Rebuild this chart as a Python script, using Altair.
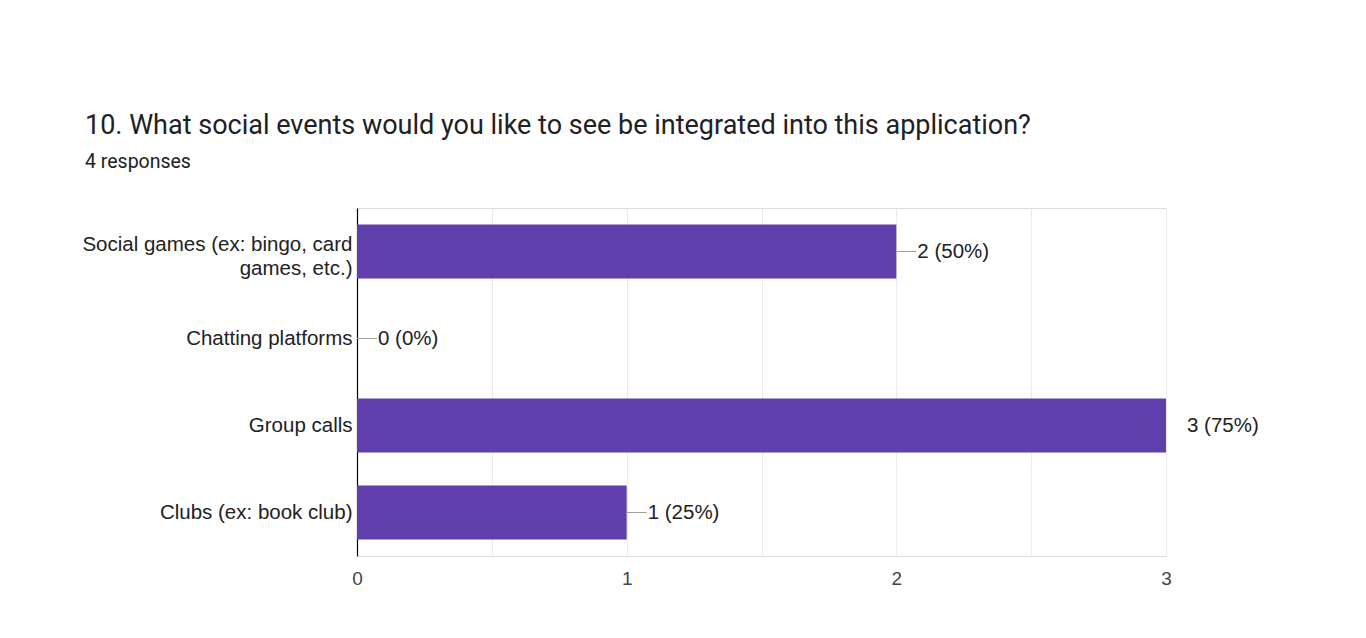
import altair as alt
import pandas as pd

categories = [
    "Social games (ex: bingo, card games, etc.)",
    "Chatting platforms",
    "Group calls",
    "Clubs (ex: book club)",
]
counts = [2, 0, 3, 1]
labels = ["2 (50%)", "0 (0%)", "3 (75%)", "1 (25%)"]
tick_values = [0, 0.5, 1, 1.5, 2, 2.5, 3]

df = pd.DataFrame({"category": categories, "count": counts, "label": labels})

y_enc = alt.Y(
    "category:N",
    sort=categories,
    title=None,
    scale=alt.Scale(paddingInner=0.38, paddingOuter=0.19),
    axis=alt.Axis(
        labelFont="Liberation Sans",
        labelFontSize=20.5,
        labelColor="#222222",
        labelPadding=5,
        labelLimit=400,
        labelLineHeight=24,
        labelOffset={"condition": {"test": "datum.value == 'Social games (ex: bingo, card games, etc.)'", "value": -7}, "value": 0},
        ticks=False,
        domain=True,
        domainColor="#000000",
        domainWidth=1.2,
        labelExpr="datum.value == 'Social games (ex: bingo, card games, etc.)' ? ['Social games (ex: bingo, card', 'games, etc.)'] : datum.value",
    ),
)

x_scale = alt.Scale(domain=[0, 3], nice=False)
x_enc = alt.X(
    "count:Q",
    title=None,
    scale=x_scale,
    axis=alt.Axis(
        values=tick_values,
        format=".0f",
        labelExpr="datum.value % 1 == 0 ? datum.label : ''",
        labelFont="Liberation Sans",
        labelFontSize=19,
        labelColor="#444444",
        labelPadding=13,
        labelFlush=False,
        ticks=False,
        domain=False,
        grid=True,
        gridColor="#ebebeb",
    ),
)

bars = alt.Chart(df).mark_bar(color="#5f3fac").encode(x=x_enc, y=y_enc)

leaders = alt.Chart(df).mark_rule(color="#9e9e9e", strokeWidth=1, clip=True, x2Offset=20).encode(
    x=alt.X("count:Q", scale=x_scale),
    x2=alt.X2("count:Q"),
    y=alt.Y("category:N", sort=categories, bandPosition=0.5),
)

texts = alt.Chart(df).mark_text(
    align="left", baseline="middle", dx=21, font="Liberation Sans", fontSize=20.5, color="#222222"
).encode(
    x=alt.X("count:Q", scale=x_scale),
    y=alt.Y("category:N", sort=categories),
    text="label:N",
)

chart = (
    alt.layer(bars, leaders, texts)
    .properties(
        width=809,
        height=348,
        title=alt.TitleParams(
            text="10. What social events would you like to see be integrated into this application?",
            subtitle="4 responses",
            anchor="start",
            frame="group",
            dx=-272,
            font="Roboto",
            fontSize=27,
            fontWeight="normal",
            color="#202124",
            subtitleFont="Roboto",
            subtitleFontSize=19.5,
            subtitleColor="#202124",
            subtitlePadding=13,
            offset=36,
        ),
        autosize=alt.AutoSizeParams(type="none"),
        padding={"left": 357, "top": 208, "right": 200, "bottom": 82},
    )
    .configure_view(stroke="#e6e6e6", strokeWidth=1)
    .configure(background="white")
)

chart.save("out.html", embed_options={"renderer": "svg", "actions": False})
